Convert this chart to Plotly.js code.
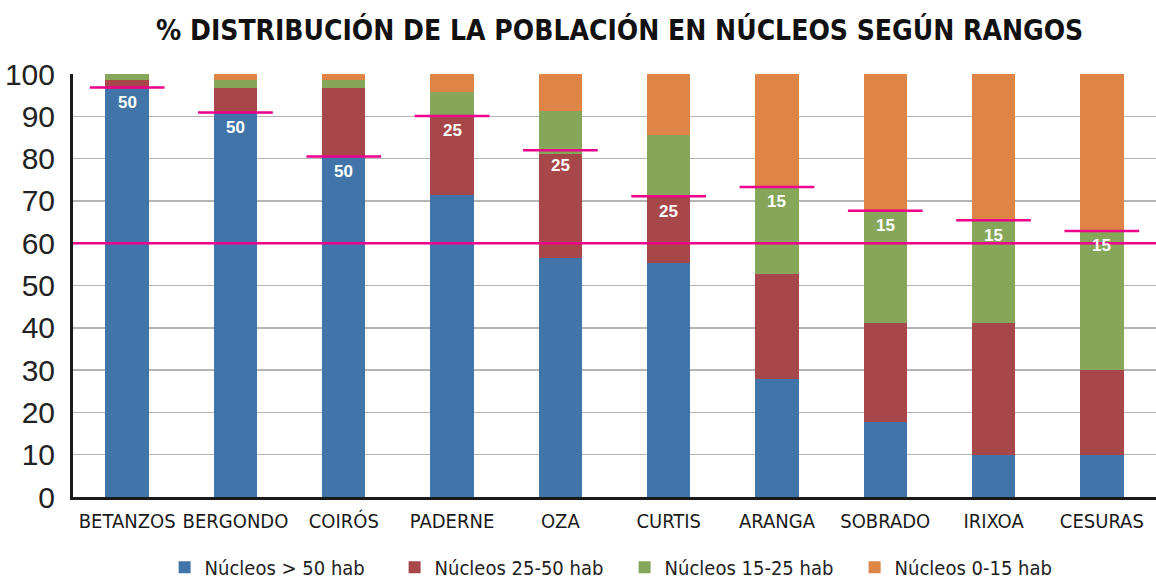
<!DOCTYPE html>
<html>
<head>
<meta charset="utf-8">
<script src="https://cdn.plot.ly/plotly-3.0.1.min.js"></script>
<style>html,body{margin:0;padding:0;background:#fff;}#chart{width:1156px;height:580px;}</style>
</head>
<body>
<div id="chart"></div>
<script>
const categories = ["BETANZOS","BERGONDO","COIRÓS","PADERNE","OZA","CURTIS","ARANGA","SOBRADO","IRIXOA","CESURAS"];
const seriesNames = ["Núcleos > 50 hab","Núcleos 25-50 hab","Núcleos 15-25 hab","Núcleos 0-15 hab"];
const over50   = [96.5, 90.7, 80.4, 71.4, 56.6, 55.3, 27.9, 17.8,  9.9,  9.9];
const from25   = [ 2.0,  6.1, 16.4, 18.7, 24.6, 15.7, 24.8, 23.4, 31.3, 20.1];
const from15   = [ 1.5,  1.9,  1.9,  5.7, 10.1, 14.6, 20.3, 26.2, 24.0, 32.7];
const from0    = [ 0.0,  1.3,  1.3,  4.2,  8.7, 14.4, 27.0, 32.6, 34.8, 37.3];
const markerValues = [96.8, 90.9, 80.5, 90.1, 82.0, 71.1, 73.3, 67.7, 65.4, 62.9];
const markerLabels = ["50","50","50","25","25","25","15","15","15","15"];
const referenceLine = 60;

const colors = ["#4175a9","#a8474a","#86a75a","#dd8446"];
const pink = "#ec008c";
const values = [over50, from25, from15, from0];
const condensed = "DejaVu Sans Condensed, Liberation Sans, sans-serif";

const traces = values.map((v, i) => ({
  type: "bar",
  name: seriesNames[i],
  x: categories,
  y: v,
  marker: {color: colors[i], line: {width: 0}},
  hoverinfo: "x+y+name"
}));

const shapes = [{
  type: "line", xref: "paper", x0: 0, x1: 1, yref: "y", y0: referenceLine, y1: referenceLine,
  line: {color: pink, width: 2.5}
}];
markerValues.forEach((v, i) => {
  shapes.push({type: "line", xref: "x", yref: "y", x0: i - 0.345, x1: i + 0.345, y0: v, y1: v,
    line: {color: pink, width: 2.5}});
});
const annotations = markerValues.map((v, i) => ({
  x: categories[i], y: v, xref: "x", yref: "y", text: markerLabels[i], showarrow: false,
  yshift: -15, font: {family: "Liberation Sans, Arial, sans-serif", size: 17, color: "#ffffff", weight: "bold"}
}));

const layout = {
  width: 1156, height: 580,
  margin: {l: 73, r: 0, t: 74, b: 83},
  barmode: "stack",
  bargap: 0.6,
  paper_bgcolor: "#ffffff",
  plot_bgcolor: "#ffffff",
  title: {text: "% DISTRIBUCIÓN DE LA POBLACIÓN EN NÚCLEOS SEGÚN RANGOS",
    font: {family: condensed, size: 28, color: "#111111", weight: "bold"},
    x: 0.536, xanchor: "center", y: 0.948, yanchor: "middle"},
  xaxis: {type: "category", showline: true, linecolor: "#1a1a1a", linewidth: 3, ticks: "",
    tickangle: 0,
    tickfont: {family: condensed, size: 20, color: "#1a1a1a"},
    ticklabelstandoff: 4, showgrid: false, zeroline: false, fixedrange: true},
  yaxis: {range: [0, 100], tickvals: [0,10,20,30,40,50,60,70,80,90,100], showline: true,
    linecolor: "#1a1a1a", linewidth: 3, ticks: "", showgrid: true, gridcolor: "#b4b4b4", gridwidth: 1.5,
    zeroline: false, tickfont: {family: "Liberation Sans, Arial, sans-serif", size: 30, color: "#222222"},
    ticklabelstandoff: 9, fixedrange: true},
  legend: {orientation: "h", xref: "container", yref: "container", x: 0.1424, xanchor: "left", y: 0.022, yanchor: "middle",
    font: {family: condensed, size: 20, color: "#222222"},
    entrywidth: 185, entrywidthmode: "pixels",
    itemwidth: 30, tracegroupgap: 0, traceorder: "normal"},
  shapes: shapes,
  annotations: annotations,
  showlegend: true
};

Plotly.newPlot("chart", traces, layout, {displayModeBar: false, staticPlot: true});
</script>
</body>
</html>
